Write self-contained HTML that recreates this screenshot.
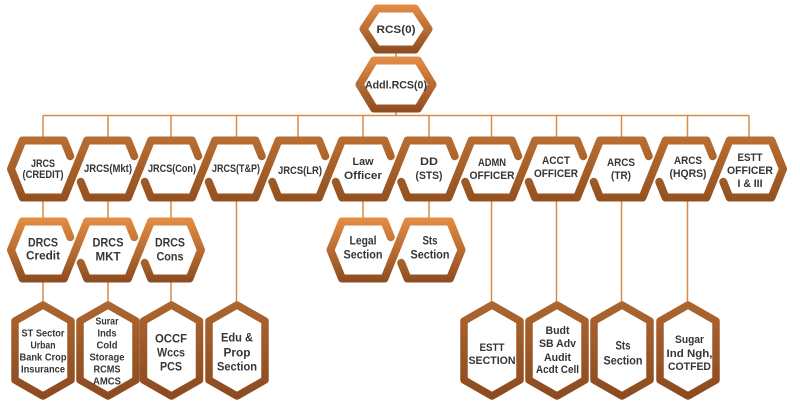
<!DOCTYPE html>
<html><head><meta charset="utf-8"><style>
html,body{margin:0;padding:0;background:#fff;}
svg{display:block;}
text{font-family:"Liberation Sans",sans-serif;font-weight:bold;fill:#353535;text-anchor:middle;}
</style></head><body>
<svg width="800" height="405" viewBox="0 0 800 405" xmlns="http://www.w3.org/2000/svg">
<defs>
<linearGradient id="gT1" gradientUnits="userSpaceOnUse" x1="0" y1="5" x2="0" y2="53"><stop offset="0" stop-color="#e48e45"/><stop offset="1" stop-color="#8c4c21"/></linearGradient>
<linearGradient id="gT2" gradientUnits="userSpaceOnUse" x1="0" y1="57" x2="0" y2="112"><stop offset="0" stop-color="#e48e45"/><stop offset="1" stop-color="#8c4c21"/></linearGradient>
<linearGradient id="gR1" gradientUnits="userSpaceOnUse" x1="0" y1="137" x2="0" y2="201"><stop offset="0" stop-color="#b96e32"/><stop offset="1" stop-color="#93511f"/></linearGradient>
<linearGradient id="gR2" gradientUnits="userSpaceOnUse" x1="0" y1="218" x2="0" y2="282"><stop offset="0" stop-color="#e48d44"/><stop offset="1" stop-color="#8d4d21"/></linearGradient>
<linearGradient id="gR3" gradientUnits="userSpaceOnUse" x1="0" y1="301" x2="0" y2="400"><stop offset="0" stop-color="#ad6630"/><stop offset="1" stop-color="#8a4a1f"/></linearGradient>
</defs>

<!-- connectors -->
<g stroke="#d98a45" stroke-width="1.5" fill="none">
<path d="M396 49V61M396 108V115.5M43 115.5H749"/>
<path d="M43 115.5V141M108 115.5V141M171 115.5V141M236.5 115.5V141M298 115.5V141M363 115.5V141M429 115.5V141M491.5 115.5V141M556.5 115.5V141M621.5 115.5V141M687.5 115.5V141M749 115.5V141"/>
<path d="M43 197V222M108 197V222M171 197V222M363 197V222M429 197V222"/>
<path d="M43 278V306M108 278V306M171 278V306"/>
<path d="M236.5 197V306M491.5 197V306M556.5 197V306M621.5 197V306M687.5 197V306"/>
</g>

<!-- top hexes -->
<g fill="none" stroke-width="8" stroke-linejoin="round" stroke-linecap="round">
<path stroke="url(#gT1)" d="M363.5 29 L377 8.5 L415 8.5 L428.5 29 L415 49.5 L377 49.5 Z"/>
<path stroke="url(#gT2)" d="M359.5 84.5 L374 60.5 L418 60.5 L432.5 84.5 L418 108.5 L374 108.5 Z"/>
</g>

<!-- row 1 chain -->
<g fill="none" stroke="url(#gR1)" stroke-width="8" stroke-linejoin="round" stroke-linecap="round">
<path d="M70.3 156.2 L64 140.5 L22.5 140.5 L11 169 L22.5 197.5 L64 197.5 L75.5 169"/>
<path d="M134.3 156.2 L128 140.5 L87 140.5 L75.5 169 M80.7 181.8 L87 197.5 L128 197.5 L139.5 169"/>
<path d="M198.3 156.2 L192 140.5 L151 140.5 L139.5 169 M144.7 181.8 L151 197.5 L192 197.5 L203.5 169"/>
<path d="M261.8 156.2 L255.5 140.5 L215 140.5 L203.5 169 M208.7 181.8 L215 197.5 L255.5 197.5 L267 169"/>
<path d="M325.3 156.2 L319 140.5 L278.5 140.5 L267 169 M272.2 181.8 L278.5 197.5 L319 197.5 L330.5 169"/>
<path d="M390.8 156.2 L384.5 140.5 L342 140.5 L330.5 169 M335.7 181.8 L342 197.5 L384.5 197.5 L396 169"/>
<path d="M454.8 156.2 L448.5 140.5 L407.5 140.5 L396 169 M401.2 181.8 L407.5 197.5 L448.5 197.5 L460 169"/>
<path d="M518.3 156.2 L512 140.5 L471.5 140.5 L460 169 M465.2 181.8 L471.5 197.5 L512 197.5 L523.5 169"/>
<path d="M583.3 156.2 L577 140.5 L535 140.5 L523.5 169 M528.7 181.8 L535 197.5 L577 197.5 L588.5 169"/>
<path d="M648.8 156.2 L642.5 140.5 L600 140.5 L588.5 169 M593.7 181.8 L600 197.5 L642.5 197.5 L654 169"/>
<path d="M712.8 156.2 L706.5 140.5 L665.5 140.5 L654 169 M659.2 181.8 L665.5 197.5 L706.5 197.5 L718 169"/>
<path d="M723.2 181.8 L729.5 197.5 L771.5 197.5 L783 169 L771.5 140.5 L729.5 140.5 L718 169"/>
</g>

<!-- row 2 chains -->
<g fill="none" stroke="url(#gR2)" stroke-width="8" stroke-linejoin="round" stroke-linecap="round">
<path d="M70.3 237.2 L64 221.5 L22.5 221.5 L11 250 L22.5 278.5 L64 278.5 L75.5 250"/>
<path d="M134.3 237.2 L128 221.5 L87 221.5 L75.5 250 M80.7 262.8 L87 278.5 L128 278.5 L139.5 250"/>
<path d="M144.7 262.8 L151 278.5 L189.5 278.5 L201 250 L189.5 221.5 L151 221.5 L139.5 250"/>
<path d="M390.8 237.2 L384.5 221.5 L342 221.5 L330.5 250 L342 278.5 L384.5 278.5 L396 250"/>
<path d="M401.2 262.8 L407.5 278.5 L450 278.5 L461.5 250 L450 221.5 L407.5 221.5 L396 250"/>
</g>

<!-- row 3 tall hexes -->
<g fill="none" stroke="url(#gR3)" stroke-width="7.5" stroke-linejoin="round">
<path d="M43 305 L71 321 L71 380 L43 396 L15 380 L15 321 Z"/>
<path d="M108 305 L136 321 L136 380 L108 396 L80 380 L80 321 Z"/>
<path d="M171.5 305 L199.5 321 L199.5 380 L171.5 396 L143.5 380 L143.5 321 Z"/>
<path d="M237 305 L265 321 L265 380 L237 396 L209 380 L209 321 Z"/>
<path d="M492 305 L520 321 L520 380 L492 396 L464 380 L464 321 Z"/>
<path d="M557 305 L585 321 L585 380 L557 396 L529 380 L529 321 Z"/>
<path d="M622 305 L650 321 L650 380 L622 396 L594 380 L594 321 Z"/>
<path d="M688 305 L716 321 L716 380 L688 396 L660 380 L660 321 Z"/>
</g>

<!-- texts top -->
<g font-size="11">
<text x="396" y="33" textLength="39" lengthAdjust="spacingAndGlyphs">RCS(0)</text>
<text x="396" y="88.5" textLength="62" lengthAdjust="spacingAndGlyphs">Addl.RCS(0)</text>
</g>

<!-- row 1 texts -->
<g font-size="11">
<text x="43" y="167" textLength="24" lengthAdjust="spacingAndGlyphs">JRCS</text>
<text x="43" y="178" textLength="41" lengthAdjust="spacingAndGlyphs">(CREDIT)</text>
<text x="108" y="172" textLength="48" lengthAdjust="spacingAndGlyphs">JRCS(Mkt)</text>
<text x="172" y="172" textLength="48" lengthAdjust="spacingAndGlyphs">JRCS(Con)</text>
<text x="236" y="172" textLength="48" lengthAdjust="spacingAndGlyphs">JRCS(T&amp;P)</text>
<text x="300" y="174" textLength="44" lengthAdjust="spacingAndGlyphs">JRCS(LR)</text>
<text x="363" y="165" textLength="21" lengthAdjust="spacingAndGlyphs">Law</text>
<text x="363" y="179" textLength="38" lengthAdjust="spacingAndGlyphs">Officer</text>
<text x="429" y="165" textLength="18" lengthAdjust="spacingAndGlyphs">DD</text>
<text x="429" y="179" textLength="27" lengthAdjust="spacingAndGlyphs">(STS)</text>
<text x="492" y="166" textLength="28" lengthAdjust="spacingAndGlyphs">ADMN</text>
<text x="492" y="179" textLength="45" lengthAdjust="spacingAndGlyphs">OFFICER</text>
<text x="556" y="164" textLength="28" lengthAdjust="spacingAndGlyphs">ACCT</text>
<text x="556" y="177" textLength="44" lengthAdjust="spacingAndGlyphs">OFFICER</text>
<text x="621" y="166" textLength="28" lengthAdjust="spacingAndGlyphs">ARCS</text>
<text x="621" y="179" textLength="20" lengthAdjust="spacingAndGlyphs">(TR)</text>
<text x="688" y="164" textLength="28" lengthAdjust="spacingAndGlyphs">ARCS</text>
<text x="688" y="177" textLength="37" lengthAdjust="spacingAndGlyphs">(HQRS)</text>
<text x="750" y="161" textLength="25" lengthAdjust="spacingAndGlyphs">ESTT</text>
<text x="750" y="174" textLength="46" lengthAdjust="spacingAndGlyphs">OFFICER</text>
<text x="750" y="187" textLength="25" lengthAdjust="spacingAndGlyphs">I &amp; III</text>
</g>

<!-- row 2 texts -->
<g font-size="12">
<text x="43" y="246.3" textLength="30" lengthAdjust="spacingAndGlyphs">DRCS</text>
<text x="43" y="259.3" textLength="34" lengthAdjust="spacingAndGlyphs">Credit</text>
<text x="108" y="246.3" textLength="31" lengthAdjust="spacingAndGlyphs">DRCS</text>
<text x="108" y="260.3" textLength="25" lengthAdjust="spacingAndGlyphs">MKT</text>
<text x="170" y="246.3" textLength="30" lengthAdjust="spacingAndGlyphs">DRCS</text>
<text x="170" y="260.3" textLength="27" lengthAdjust="spacingAndGlyphs">Cons</text>
<text x="363" y="244.3" textLength="27" lengthAdjust="spacingAndGlyphs">Legal</text>
<text x="363" y="258.3" textLength="39" lengthAdjust="spacingAndGlyphs">Section</text>
<text x="430" y="244.3" textLength="15" lengthAdjust="spacingAndGlyphs">Sts</text>
<text x="430" y="258.3" textLength="39" lengthAdjust="spacingAndGlyphs">Section</text>
</g>

<!-- row 3 texts -->
<g font-size="10">
<text x="43" y="336.6" textLength="43" lengthAdjust="spacingAndGlyphs">ST Sector</text>
<text x="43" y="348.6" textLength="25" lengthAdjust="spacingAndGlyphs">Urban</text>
<text x="43" y="360.6" textLength="47" lengthAdjust="spacingAndGlyphs">Bank Crop</text>
<text x="43" y="372.6" textLength="44" lengthAdjust="spacingAndGlyphs">Insurance</text>
<text x="107" y="324.6" textLength="23" lengthAdjust="spacingAndGlyphs">Surar</text>
<text x="107" y="336.6" textLength="19" lengthAdjust="spacingAndGlyphs">Inds</text>
<text x="107" y="348.6" textLength="21" lengthAdjust="spacingAndGlyphs">Cold</text>
<text x="107" y="360.6" textLength="35" lengthAdjust="spacingAndGlyphs">Storage</text>
<text x="107" y="372.6" textLength="27" lengthAdjust="spacingAndGlyphs">RCMS</text>
<text x="107" y="384.6" textLength="28" lengthAdjust="spacingAndGlyphs">AMCS</text>
</g>
<g font-size="12">
<text x="171" y="342.3" textLength="32" lengthAdjust="spacingAndGlyphs">OCCF</text>
<text x="171" y="356.3" textLength="28" lengthAdjust="spacingAndGlyphs">Wccs</text>
<text x="171" y="370.3" textLength="22" lengthAdjust="spacingAndGlyphs">PCS</text>
<text x="237" y="341.3" textLength="32" lengthAdjust="spacingAndGlyphs">Edu &amp;</text>
<text x="237" y="356.3" textLength="27" lengthAdjust="spacingAndGlyphs">Prop</text>
<text x="237" y="370.3" textLength="40" lengthAdjust="spacingAndGlyphs">Section</text>
<text x="623" y="349.3" textLength="15" lengthAdjust="spacingAndGlyphs">Sts</text>
<text x="623" y="364.3" textLength="39" lengthAdjust="spacingAndGlyphs">Section</text>
</g>
<g font-size="11">
<text x="492" y="351" textLength="25" lengthAdjust="spacingAndGlyphs">ESTT</text>
<text x="492" y="364" textLength="47" lengthAdjust="spacingAndGlyphs">SECTION</text>
<text x="557.5" y="334" textLength="24" lengthAdjust="spacingAndGlyphs">Budt</text>
<text x="557.5" y="347" textLength="37" lengthAdjust="spacingAndGlyphs">SB Adv</text>
<text x="557.5" y="361" textLength="27" lengthAdjust="spacingAndGlyphs">Audit</text>
<text x="557.5" y="373" textLength="43" lengthAdjust="spacingAndGlyphs">Acdt Cell</text>
<text x="689.5" y="343" textLength="29" lengthAdjust="spacingAndGlyphs">Sugar</text>
<text x="689.5" y="357" textLength="46" lengthAdjust="spacingAndGlyphs">Ind Ngh,</text>
<text x="689.5" y="370" textLength="43" lengthAdjust="spacingAndGlyphs">COTFED</text>
</g>
</svg>
</body></html>
